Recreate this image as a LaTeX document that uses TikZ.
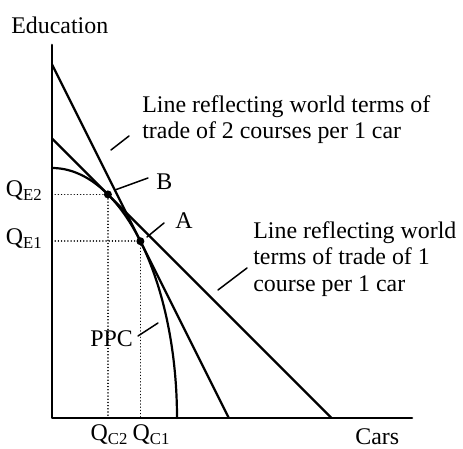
\documentclass[tikz,border=0pt]{standalone}
\usepackage{fontspec}
\setmainfont{Liberation Serif}
\begin{document}
\begin{tikzpicture}[x=0.02cm,y=0.02cm,font=\fontsize{13.6}{15.2}\selectfont,line join=round,line cap=round,
	axis/.style={line width=1.5pt},
	curve/.style={line width=1.25pt},
	leader/.style={line width=0.85pt},
	guide/.style={line width=0.85pt,dash pattern=on 0.01pt off 1.8pt},
	lbl/.style={inner sep=0pt}]
	\useasboundingbox (-52,-31) rectangle (411,418);
	\def \xmax{360}
	\def \ymax{373}
	\def \ra{125}
	\def \rb{250}
	\pgfmathsetmacro\tB{atan(\rb/\ra)}
	\pgfmathsetmacro\tA{atan(\rb/(2*\ra))}
	\pgfmathsetmacro\cOne{\ra*cos(\tB)+\rb*sin(\tB)}
	\pgfmathsetmacro\cTwo{\rb*sin(\tA)+2*\ra*cos(\tA)}
	\coordinate (O) at (0,0);
	\coordinate (ptB) at ({\ra*cos(\tB)},{\rb*sin(\tB)});
	\coordinate (ptA) at ({\ra*cos(\tA)},{\rb*sin(\tA)});
	%Axes
	\draw[axis] (0,\ymax) -- (O) -- (\xmax,0);
	\node[lbl,anchor=base west] (educ) at (-41,384) {Education};
	\node[lbl,anchor=base west] (cars) at (303,-27) {Cars};
	%PPC and the two trade lines
	\draw[curve] plot[domain=0:90,smooth,samples=80] ({\ra*cos(\x)},{\rb*sin(\x)});
	\draw[curve] (0,\cOne) -- (\cOne,0);
	\draw[curve] (0,\cTwo) -- ({\cTwo/2},0);
	%Points and guides
	\draw[guide] (ptB -| O) -- (ptB) -- (ptB |- O);
	\draw[guide] (ptA -| O) -- (ptA) -- (ptA |- O);
	\fill (ptB) circle(4) (ptA) circle(4);
	\node[lbl,anchor=base east] (qe2) at (-9,221) {Q\textsubscript{E2}};
	\node[lbl,anchor=base east] (qe1) at (-9,173) {Q\textsubscript{E1}};
	\node[lbl,anchor=base] (qc2) at (57.5,-23) {Q\textsubscript{C2}};
	\node[lbl,anchor=base] (qc1) at (99.5,-23) {Q\textsubscript{C1}};
	%Labels with leaders
	\node[lbl,anchor=base west] (labB) at (104,228) {B};
	\node[lbl,anchor=base west] (labA) at (123,189) {A};
	\node[lbl,anchor=base west] (labPPC) at (38,71) {PPC};
	\node[lbl,anchor=north west,align=left] (labTwo) at (90,323)
		{Line reflecting world terms of\\trade of 2 courses per 1 car};
	\node[lbl,anchor=north west,align=left] (labOne) at (201,197)
		{Line reflecting world\\terms of trade of 1\\course per 1 car};
	\coordinate (ldB1) at (63,228);   \coordinate (ldB2) at (96,240);
	\coordinate (ldA1) at (95,181);   \coordinate (ldA2) at (112,195);
	\coordinate (ldP1) at (86,82);    \coordinate (ldP2) at (106,95);
	\coordinate (ldT1) at (59,268);   \coordinate (ldT2) at (77,282);
	\coordinate (ldO1) at (166,128);  \coordinate (ldO2) at (195,150);
	\draw[leader] (ldB1) -- (ldB2) (ldA1) -- (ldA2) (ldP1) -- (ldP2)
		(ldT1) -- (ldT2) (ldO1) -- (ldO2);
\end{tikzpicture}
\end{document}
